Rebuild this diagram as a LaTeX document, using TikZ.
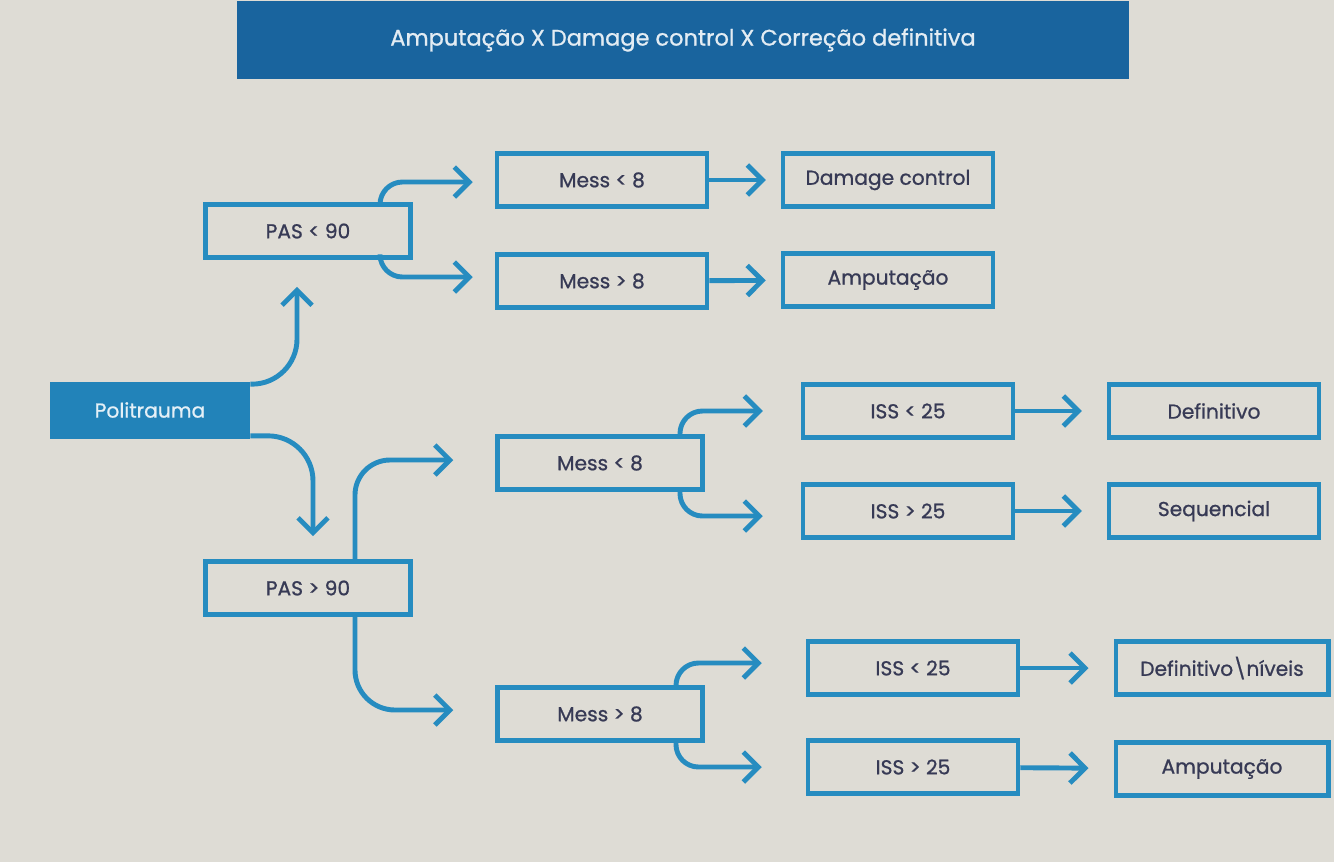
\documentclass[tikz,border=0pt]{standalone}
\usepackage{fontspec}
\setmainfont{Poppins}[FakeBold=0.9]
\usepackage{tikz}
\usetikzlibrary{arrows.meta}
\definecolor{linecol}{RGB}{38,140,192}
\definecolor{titlecol}{RGB}{25,100,158}
\definecolor{polcol}{RGB}{34,131,185}
\definecolor{txtcol}{RGB}{55,58,85}
\definecolor{paper}{RGB}{222,220,213}

\tikzset{
  box/.style={draw=linecol, line width=2.6pt, minimum width=4.1cm, minimum height=1.06cm,
    text=txtcol, font=\fontsize{11.5}{13}\selectfont, inner sep=0pt},
  flow/.style={->, draw=linecol, line width=2.8pt},
}

\begin{document}
\begin{tikzpicture}[x=0.02cm,y=-0.02cm,>={Straight Barb[length=3mm,width=6mm]}]
% Background and frame
\fill[paper] (0,0) rectangle (1334,862);
\useasboundingbox (0,0) rectangle (1334,862);
% Title
\node[fill=titlecol, minimum width=17.86cm, minimum height=1.56cm, inner sep=0pt,
  text=white!88!titlecol, font=\fontsize{12.8}{14}\selectfont] (title) at (683,40)
  {Amputação X Damage control X Correção definitiva};
% Start
\node[fill=polcol, minimum width=4cm, minimum height=1.14cm, inner sep=0pt,
  text=white!88!polcol, font=\fontsize{11.5}{13}\selectfont] (poli) at (150,410) {Politrauma};
% First level
\node[box] (pas1) at (308,231) {PAS < 90};
\node[box] (pas2) at (308,588) {PAS > 90};
% Mess boxes
\node[box, minimum width=4.2cm] (mess1) at (602,180) {Mess < 8};
\node[box, minimum width=4.2cm] (mess2) at (602,281) {Mess > 8};
\node[box] (mess3) at (600,463) {Mess < 8};
\node[box] (mess4) at (600,714) {Mess > 8};
% Outcomes, PAS < 90
\node[box, minimum width=4.2cm] (dc) at (888,180) {Damage control};
\node[box, minimum width=4.2cm] (amp1) at (888,280) {Amputação};
% ISS boxes
\node[box, minimum width=4.2cm] (iss1) at (908,411) {ISS < 25};
\node[box, minimum width=4.2cm] (iss2) at (908,511) {ISS > 25};
\node[box, minimum width=4.2cm] (iss3) at (913,668) {ISS < 25};
\node[box, minimum width=4.2cm] (iss4) at (913,767) {ISS > 25};
% Outcomes, PAS > 90
\node[box, minimum width=4.2cm] (def1) at (1214,411) {Definitivo};
\node[box, minimum width=4.2cm] (seq) at (1214,511) {Sequencial};
\node[box, minimum width=4.25cm] (def2) at (1222,668) {Definitivo\textbackslash níveis};
\node[box, minimum width=4.25cm] (amp2) at (1222,769) {Amputação};

% Politrauma branches
\draw[flow, rounded corners=0.9cm] ([yshift=-0.06cm]poli.north east) -| ([xshift=-0.22cm,yshift=-0.54cm]pas1.south);
\draw[flow, rounded corners=0.9cm] ([yshift=0.06cm]poli.south east) -| ([xshift=0.1cm,yshift=0.46cm]pas2.north);
% PAS < 90 branches
\draw[flow, rounded corners=0.45cm] ([xshift=1.44cm]pas1.north) |- ([xshift=-0.44cm,yshift=-0.04cm]mess1.west);
\draw[flow, rounded corners=0.45cm] ([xshift=1.44cm]pas1.south) |- ([xshift=-0.44cm,yshift=0.08cm]mess2.west);
% PAS > 90 branches
\draw[flow, rounded corners=0.7cm] ([xshift=0.94cm]pas2.north) |- ([xshift=-0.84cm,yshift=0.06cm]mess3.west);
\draw[flow, rounded corners=0.8cm] ([xshift=0.94cm]pas2.south) |- ([xshift=-0.84cm,yshift=0.08cm]mess4.west);
% Mess branches
\draw[flow, rounded corners=0.45cm] ([xshift=1.6cm]mess3.north) |- ([xshift=-0.76cm]iss1.west);
\draw[flow, rounded corners=0.45cm] ([xshift=1.6cm]mess3.south) |- ([xshift=-0.76cm,yshift=-0.1cm]iss2.west);
\draw[flow, rounded corners=0.45cm] ([xshift=1.52cm]mess4.north) |- ([xshift=-0.88cm,yshift=0.1cm]iss3.west);
\draw[flow, rounded corners=0.45cm] ([xshift=1.52cm]mess4.south) |- ([xshift=-0.88cm]iss4.west);
% Straight arrows to outcomes
\draw[flow, shorten >=0.3cm] (mess1) -- (dc);
\draw[flow, shorten >=0.3cm] (mess2) -- (amp1);
\draw[flow, shorten >=0.5cm] (iss1) -- (def1);
\draw[flow, shorten >=0.5cm] (iss2) -- (seq);
\draw[flow, shorten >=0.5cm] (iss3) -- (def2);
\draw[flow, shorten >=0.5cm] (iss4) -- (amp2);
\end{tikzpicture}
\end{document}
